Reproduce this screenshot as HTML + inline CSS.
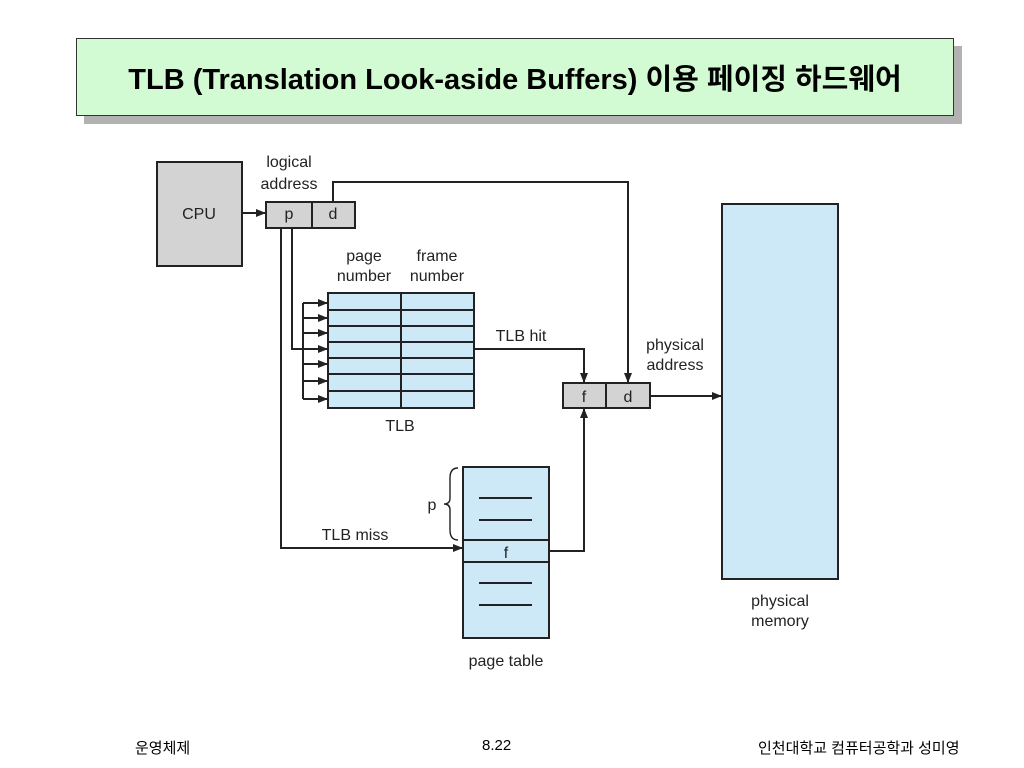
<!DOCTYPE html>
<html><head><meta charset="utf-8"><style>
body{margin:0;width:1024px;height:768px;background:#fff;position:relative;overflow:hidden;font-family:"Liberation Sans","Noto Sans CJK KR",sans-serif}
.sh{position:absolute;left:84px;top:46px;width:878px;height:78px;background:#b2b2b2}
.tb{position:absolute;left:76px;top:38px;width:876px;height:76px;background:#d3fbd3;border:1px solid #333;display:flex;align-items:center;justify-content:center;font-weight:bold;font-size:29px;color:#000}
.ft{position:absolute;top:737px;font-size:15px;color:#000}
</style></head><body>
<div class="sh"></div>
<div class="tb">TLB (Translation Look-aside Buffers) 이용 페이징 하드웨어</div>
<svg width="1024" height="768" style="position:absolute;left:0;top:0" font-family="Liberation Sans, sans-serif" font-size="16" fill="#222">
<defs><marker id="a" markerWidth="10" markerHeight="8" refX="9" refY="4" orient="auto" markerUnits="userSpaceOnUse"><path d="M0,0L10,4L0,8z" fill="#222"/></marker></defs>
<g stroke="#222" stroke-width="2" fill="none">
<rect x="157" y="162" width="85" height="104" fill="#d3d3d3"/>
<rect x="266" y="202" width="89" height="26" fill="#d3d3d3"/><line x1="312" y1="202" x2="312" y2="228"/>
<line x1="242" y1="213" x2="265" y2="213" marker-end="url(#a)"/>
<polyline points="333,202 333,182 628,182 628,382" marker-end="url(#a)"/>
<polyline points="281,228 281,548 462,548" marker-end="url(#a)"/>
<polyline points="292,228 292,349 327,349" marker-end="url(#a)"/>
<line x1="303" y1="303" x2="303" y2="399"/>
<line x1="303" y1="303" x2="327" y2="303" marker-end="url(#a)"/>
<line x1="303" y1="318" x2="327" y2="318" marker-end="url(#a)"/>
<line x1="303" y1="333" x2="327" y2="333" marker-end="url(#a)"/>
<line x1="303" y1="364" x2="327" y2="364" marker-end="url(#a)"/>
<line x1="303" y1="381" x2="327" y2="381" marker-end="url(#a)"/>
<line x1="303" y1="399" x2="327" y2="399" marker-end="url(#a)"/>
<rect x="328" y="293" width="146" height="115" fill="#cde9f8"/>
<line x1="401" y1="293" x2="401" y2="408"/>
<line x1="328" y1="310" x2="474" y2="310"/><line x1="328" y1="326" x2="474" y2="326"/><line x1="328" y1="342" x2="474" y2="342"/><line x1="328" y1="358" x2="474" y2="358"/><line x1="328" y1="374" x2="474" y2="374"/><line x1="328" y1="391" x2="474" y2="391"/>
<polyline points="474,349 584,349 584,382" marker-end="url(#a)"/>
<rect x="563" y="383" width="87" height="25" fill="#d3d3d3"/><line x1="606" y1="383" x2="606" y2="408"/>
<line x1="650" y1="396" x2="721" y2="396" marker-end="url(#a)"/>
<rect x="722" y="204" width="116" height="375" fill="#cde9f8"/>
<rect x="463" y="467" width="86" height="171" fill="#cde9f8"/>
<line x1="463" y1="540" x2="549" y2="540"/><line x1="463" y1="562" x2="549" y2="562"/>
<line x1="479" y1="498" x2="532" y2="498"/><line x1="479" y1="520" x2="532" y2="520"/>
<line x1="479" y1="583" x2="532" y2="583"/><line x1="479" y1="605" x2="532" y2="605"/>
<polyline points="549,551 584,551 584,409" marker-end="url(#a)"/>
<path d="M458,468 Q450,468 450,478 L450,498 Q450,504 444,504 Q450,504 450,510 L450,530 Q450,540 458,540" stroke-width="1.4"/>
</g>
<g text-anchor="middle">
<text x="199" y="219">CPU</text>
<text x="289" y="219">p</text><text x="333" y="219">d</text>
<text x="289" y="167">logical</text><text x="289" y="189">address</text>
<text x="364" y="261">page</text><text x="364" y="281">number</text>
<text x="437" y="261">frame</text><text x="437" y="281">number</text>
<text x="521" y="341">TLB hit</text>
<text x="675" y="350" >physical</text><text x="675" y="370">address</text>
<text x="584" y="402">f</text><text x="628" y="402">d</text>
<text x="400" y="431">TLB</text>
<text x="355" y="540">TLB miss</text>
<text x="432" y="510">p</text>
<text x="506" y="558">f</text>
<text x="506" y="666">page table</text>
<text x="780" y="606">physical</text><text x="780" y="626">memory</text>
</g>
</svg>
<div class="ft" style="left:135px">운영체제</div>
<div class="ft" style="left:482px">8.22</div>
<div class="ft" style="left:758px">인천대학교 컴퓨터공학과 성미영</div>
</body></html>
